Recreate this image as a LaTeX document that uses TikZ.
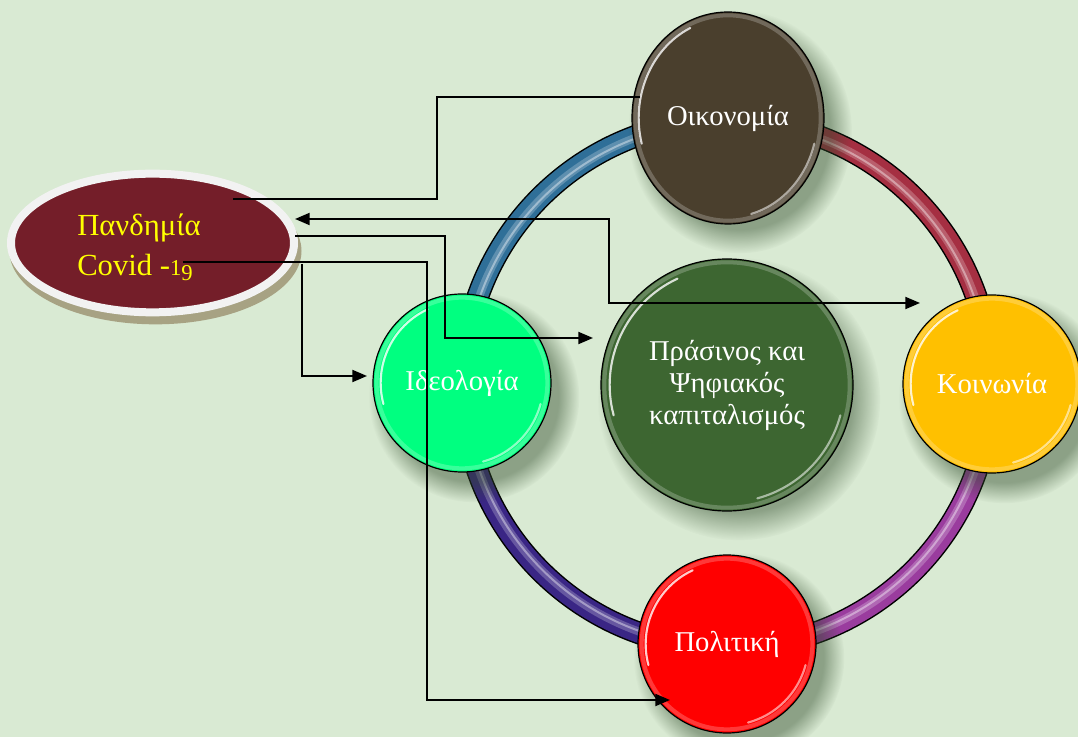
\documentclass[tikz,border=0pt]{standalone}
\usepackage{fontspec}
\setmainfont{Liberation Serif}
\usetikzlibrary{arrows.meta,shapes.geometric,fadings,calc}

\definecolor{bg}{HTML}{D9EAD3}
\definecolor{panc}{HTML}{741E29}
\definecolor{panb}{HTML}{F2F2F2}
\definecolor{shc}{HTML}{A7A283}
\definecolor{oikc}{HTML}{4A3F2D}
\definecolor{koic}{HTML}{FFC000}
\definecolor{polc}{HTML}{FF0000}
\definecolor{idec}{HTML}{00FF80}
\definecolor{ctrc}{HTML}{3D6631}
\definecolor{rblue}{HTML}{2F6F98}
\definecolor{rred}{HTML}{A52F42}
\definecolor{rpur}{HTML}{9A3C9E}
\definecolor{rind}{HTML}{3A2685}
\definecolor{ylw}{HTML}{FFFF00}
\definecolor{shd}{HTML}{2F4A2A}

\begin{document}
\begin{tikzpicture}[x=0.75pt,y=-0.75pt,
  ball/.style={circle, draw=black, line width=0.9pt, inner sep=0pt, outer sep=0pt,
    text=white, font=\fontsize{21.5}{24}\selectfont},
  shadowfill/.style={fill=shd, opacity=0.45, path fading=circle with fuzzy edge 20 percent},
  conn/.style={draw=black, line width=1.4pt},
  arr/.style={-{Triangle[length=11pt,width=9pt]}},
  dbl/.style={{Triangle[length=11pt,width=9pt]}-{Triangle[length=11pt,width=9pt]}},
  hl/.style={white, line width=1.6pt, opacity=0.8, line cap=round},
  rim/.style={white, line width=3pt, opacity=0.22},
  ptext/.style={anchor=base west, text=ylw, font=\fontsize{23}{28}\selectfont, inner sep=0pt}
]
\useasboundingbox (0,0) rectangle (1078,737);
\fill[bg] (0,0) rectangle (1078,737);

% centres
\coordinate (rc) at (727,384);
\coordinate (cctr) at (727,385);
\coordinate (coik) at (728,118);
\coordinate (ckoi) at (992,384);
\coordinate (cpol) at (727,644);
\coordinate (cide) at (462,383);

% ring
\foreach \a/\b in {90/180, 0/90, 270/360, 180/270}
  \draw[line width=17pt, black] ($(rc)+(\a:198pt)$) arc[start angle=\a, end angle=\b, radius=198pt];
\foreach \a/\b/\c in {90/180/rblue, 0/90/rred, 270/360/rpur, 180/270/rind} {
  \draw[line width=14.8pt, \c] ($(rc)+(\a:198pt)$) arc[start angle=\a, end angle=\b, radius=198pt];
  \draw[line width=6pt, \c!55!white, opacity=0.5] ($(rc)+(\a:197pt)$) arc[start angle=\a, end angle=\b, radius=197pt];
  \draw[line width=1.5pt, white, opacity=0.4] ($(rc)+(\a:196.5pt)$) arc[start angle=\a, end angle=\b, radius=196.5pt];
}

% soft shadows
\fill[shadowfill] ($(cctr)+(12,14)$) circle[radius=106pt];
\fill[shadowfill] ($(coik)+(12,14)$) ellipse[x radius=84pt, y radius=91pt];
\fill[shadowfill] ($(ckoi)+(12,14)$) circle[radius=79pt];
\fill[shadowfill] ($(cpol)+(12,14)$) circle[radius=79pt];
\fill[shadowfill] ($(cide)+(12,14)$) circle[radius=79pt];

% circles
\node[ball, fill=ctrc, minimum size=189pt, align=center] (ctr) at (cctr)
  {Πράσινος και\\Ψηφιακός\\καπιταλισμός};
\node[ball, ellipse, fill=oikc, minimum width=144pt, minimum height=159pt] (oik) at (coik) {Οικονομία};
\node[ball, fill=koic, minimum size=133.5pt] (koi) at (ckoi) {Κοινωνία};
\node[ball, fill=polc, minimum size=133.5pt] (pol) at (cpol) {\raisebox{-4pt}{Πολιτική}};
\node[ball, fill=idec, minimum size=133.5pt] (ide) at (cide) {Ιδεολογία};

% gloss
\foreach \n/\r/\s in {koi/61pt/64pt, pol/61pt/64pt, ide/61pt/64pt, ctr/88pt/92pt} {
  \draw[rim] (\n.center) circle[radius=\s];
  \draw[hl] ($(\n.center)+(115:\r)$) arc[start angle=115, end angle=195, radius=\r];
  \draw[hl, opacity=0.55] ($(\n.center)+(285:\r)$) arc[start angle=285, end angle=345, radius=\r];
}
\draw[rim] (oik.center) ellipse[x radius=69.5pt, y radius=77pt];
\draw[hl] ($(oik.center)+(115:67pt and 74.5pt)$) arc[start angle=115, end angle=195, x radius=67pt, y radius=74.5pt];
\draw[hl, opacity=0.55] ($(oik.center)+(285:67pt and 74.5pt)$) arc[start angle=285, end angle=345, x radius=67pt, y radius=74.5pt];

% pandemic ellipse
\fill[shc] (155.5,251) ellipse[x radius=109.5pt, y radius=55pt];
\node[ellipse, fill=panc, draw=panb, line width=6pt, minimum width=212.25pt, minimum height=104pt,
  inner sep=0pt, outer sep=0pt] (pan) at (152.5,243) {};
\node[ptext] (pan1) at (77,236) {Πανδημία};
\node[ptext] (pan2) at (77,276) {Covid -{\fontsize{17}{20}\selectfont 1\raisebox{-0.2em}{9}}};

% connectors
\coordinate (a1) at (233,199);
\draw[conn] (a1) -- (437,199) |- ($(oik.center)+(-88,-21)$);
\draw[conn, dbl] ($(pan.center)+(142.5,-24)$) -- (609,219) |- ($(koi.center)+(-72,-81)$);
\draw[conn, arr] ($(pan.center)+(142.5,-7)$) -- (445,236) |- ($(ctr.center)+(-134,-47)$);
\draw[conn, arr] ($(pan.center)+(30.5,19)$) -- (427,262) |- ($(pol.center)+(-57,56)$);
\draw[conn, arr] ($(pan.center)+(149.5,21)$) |- ($(ide.center)+(-95,-7)$);
\end{tikzpicture}
\end{document}
